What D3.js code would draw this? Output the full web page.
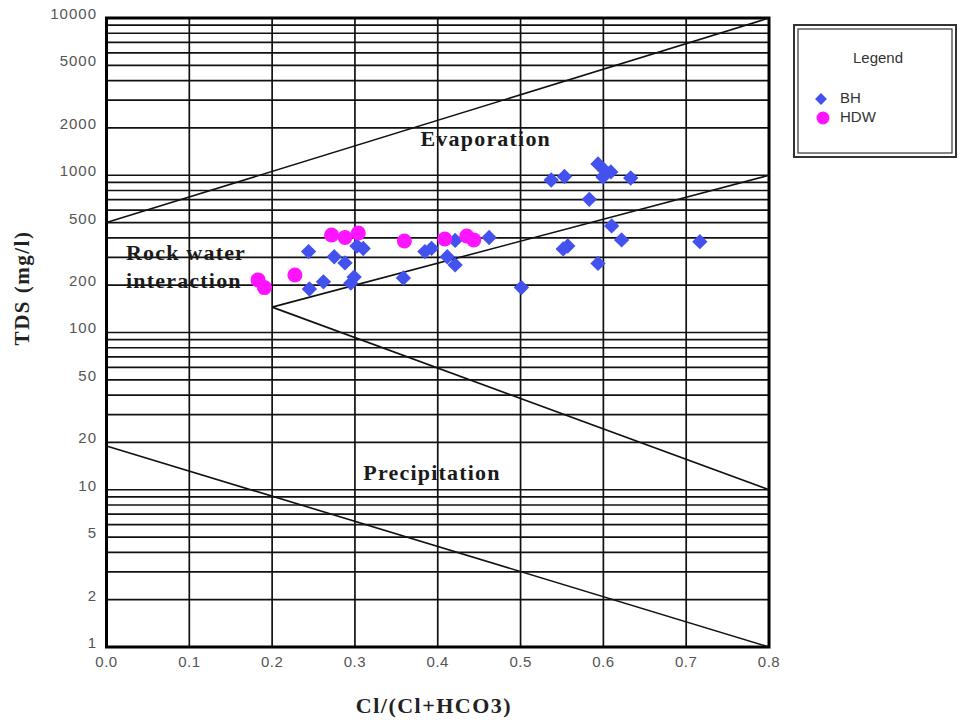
<!DOCTYPE html>
<html>
<head>
<meta charset="utf-8">
<script src="https://cdn.jsdelivr.net/npm/d3@7"></script>
<style>
  body { margin: 0; background: #fff; }
  svg { display: block; }
</style>
</head>
<body>
<div id="chart"></div>
<script>
const w = 960, h = 723;

// Gibbs plot data
const bhX = [0.244, 0.245, 0.262, 0.275, 0.288, 0.299, 0.295, 0.3025, 0.310, 0.3585, 0.3845, 0.3925, 0.421, 0.4115, 0.421, 0.462,
  0.501, 0.537, 0.553, 0.5935, 0.6015, 0.609, 0.5995, 0.633, 0.583, 0.610, 0.622, 0.5515, 0.557, 0.5935, 0.7165];
const bhTDS = [327, 189, 210, 303, 277, 225, 206, 355, 342, 222, 327, 343, 385, 303, 269, 402,
  193, 933, 982, 1180, 1072, 1050, 975, 960, 703, 476, 388, 340, 355, 275, 378];

const hdwX = [0.183, 0.1907, 0.2275, 0.2718, 0.288, 0.304, 0.3597, 0.4085, 0.435, 0.4435];
const hdwTDS = [216, 193, 232, 417, 402, 429, 382, 393, 411, 388];

const xTicks = [0, 0.1, 0.2, 0.3, 0.4, 0.5, 0.6, 0.7, 0.8];
const yTickLabels = [1, 2, 5, 10, 20, 50, 100, 200, 500, 1000, 2000, 5000, 10000];

// boundary lines [x, TDS]
const boundaries = [
  [[0, 500], [0.8, 10000]],
  [[0.2, 145], [0.8, 1000]],
  [[0.2, 145], [0.8, 10]],
  [[0, 19], [0.8, 1]]
];

const regionLabels = [
  { text: "Evaporation", x: 0.458, v: 1535, anchor: "middle" },
  { text: "Rock water", x: 0.0235, v: 289, anchor: "start" },
  { text: "interaction", x: 0.0235, v: 192, anchor: "start" },
  { text: "Precipitation", x: 0.393, v: 11.5, anchor: "middle" }
];

const colBH = "#4352ee";
const colHDW = "#ff14ff";
const serif = "'Liberation Serif', 'Times New Roman', serif";
const sans = "'Liberation Sans', Arial, sans-serif";

const svg = d3.select("#chart").append("svg").attr("width", w).attr("height", h);

const x = d3.scaleLinear().domain([0, 0.8]).range([106.5, 769]);
const y = d3.scaleLog().domain([1, 10000]).range([647, 18]);

// horizontal grid at 1..9 x 10^k
const yGrid = [];
for (let k = 0; k < 4; k++) {
  for (let m = 1; m < 10; m++) yGrid.push(m * Math.pow(10, k));
}
yGrid.push(10000);

const grid = svg.append("g");
grid.selectAll(".hg").data(yGrid).join("line")
  .attr("x1", x(0)).attr("x2", x(0.8))
  .attr("y1", d => y(d)).attr("y2", d => y(d))
  .attr("stroke", "#111").attr("stroke-width", 1.7);

grid.selectAll(".vg").data(xTicks).join("line")
  .attr("x1", d => x(d)).attr("x2", d => x(d))
  .attr("y1", y(10000)).attr("y2", y(1))
  .attr("stroke", "#111").attr("stroke-width", 1.7);

// frame
svg.append("rect")
  .attr("x", x(0)).attr("y", y(10000))
  .attr("width", x(0.8) - x(0)).attr("height", y(1) - y(10000))
  .attr("fill", "none").attr("stroke", "#000").attr("stroke-width", 3);

// tick labels
svg.append("g").selectAll("text").data(yTickLabels).join("text")
  .attr("x", 97).attr("y", d => y(d) - 3)
  .attr("text-anchor", "end").attr("dominant-baseline", "middle")
  .attr("font-family", sans).attr("font-size", 15).attr("letter-spacing", 1)
  .attr("fill", "#555")
  .text(d => d);

svg.append("g").selectAll("text").data(xTicks).join("text")
  .attr("x", d => x(d)).attr("y", 663)
  .attr("text-anchor", "middle").attr("dominant-baseline", "middle")
  .attr("font-family", sans).attr("font-size", 15).attr("letter-spacing", 0.5)
  .attr("fill", "#555")
  .text(d3.format(".1f"));

// boundary lines
const line = d3.line().x(d => x(d[0])).y(d => y(d[1]));
svg.append("g").selectAll("path").data(boundaries).join("path")
  .attr("d", line)
  .attr("fill", "none").attr("stroke", "#111").attr("stroke-width", 1.6);

// region labels
svg.append("g").selectAll("text").data(regionLabels).join("text")
  .attr("x", d => x(d.x)).attr("y", d => y(d.v))
  .attr("text-anchor", d => d.anchor)
  .attr("font-family", serif).attr("font-weight", "bold").attr("font-size", 22)
  .attr("letter-spacing", 1.2)
  .attr("fill", "#1a1a1a")
  .text(d => d.text);

// points
const diamond = d3.symbol().type(d3.symbolDiamond2).size(150);
svg.append("g").selectAll("path").data(bhX).join("path")
  .attr("transform", (d, i) => `translate(${x(d)},${y(bhTDS[i])})`)
  .attr("d", diamond)
  .attr("fill", colBH);

svg.append("g").selectAll("circle").data(hdwX).join("circle")
  .attr("cx", d => x(d)).attr("cy", (d, i) => y(hdwTDS[i]))
  .attr("r", 7.5)
  .attr("fill", colHDW);

// axis titles
svg.append("text")
  .attr("transform", "translate(29,288) rotate(-90)")
  .attr("text-anchor", "middle")
  .attr("font-family", serif).attr("font-weight", "bold").attr("font-size", 21)
  .attr("letter-spacing", 1.5)
  .attr("fill", "#222")
  .text("TDS (mg/l)");

svg.append("text")
  .attr("x", 434).attr("y", 713)
  .attr("text-anchor", "middle")
  .attr("font-family", serif).attr("font-weight", "bold").attr("font-size", 22)
  .attr("letter-spacing", 1.5)
  .attr("fill", "#222")
  .text("Cl/(Cl+HCO3)");

// legend
const lg = svg.append("g");
lg.append("rect").attr("x", 794).attr("y", 25).attr("width", 162).attr("height", 132)
  .attr("fill", "#fff").attr("stroke", "#333").attr("stroke-width", 2);
lg.append("rect").attr("x", 798).attr("y", 29).attr("width", 154).attr("height", 124)
  .attr("fill", "none").attr("stroke", "#333").attr("stroke-width", 1.2);
lg.append("text").attr("x", 878).attr("y", 59)
  .attr("text-anchor", "middle").attr("dominant-baseline", "middle")
  .attr("font-family", sans).attr("font-size", 15).attr("fill", "#333")
  .text("Legend");
lg.append("path").attr("transform", "translate(821,99)")
  .attr("d", d3.symbol().type(d3.symbolDiamond2).size(90)).attr("fill", colBH);
lg.append("text").attr("x", 840).attr("y", 99)
  .attr("dominant-baseline", "middle")
  .attr("font-family", sans).attr("font-size", 15).attr("fill", "#333")
  .text("BH");
lg.append("circle").attr("cx", 823).attr("cy", 118).attr("r", 6.5).attr("fill", colHDW);
lg.append("text").attr("x", 840).attr("y", 118)
  .attr("dominant-baseline", "middle")
  .attr("font-family", sans).attr("font-size", 15).attr("fill", "#333")
  .text("HDW");
</script>
</body>
</html>
